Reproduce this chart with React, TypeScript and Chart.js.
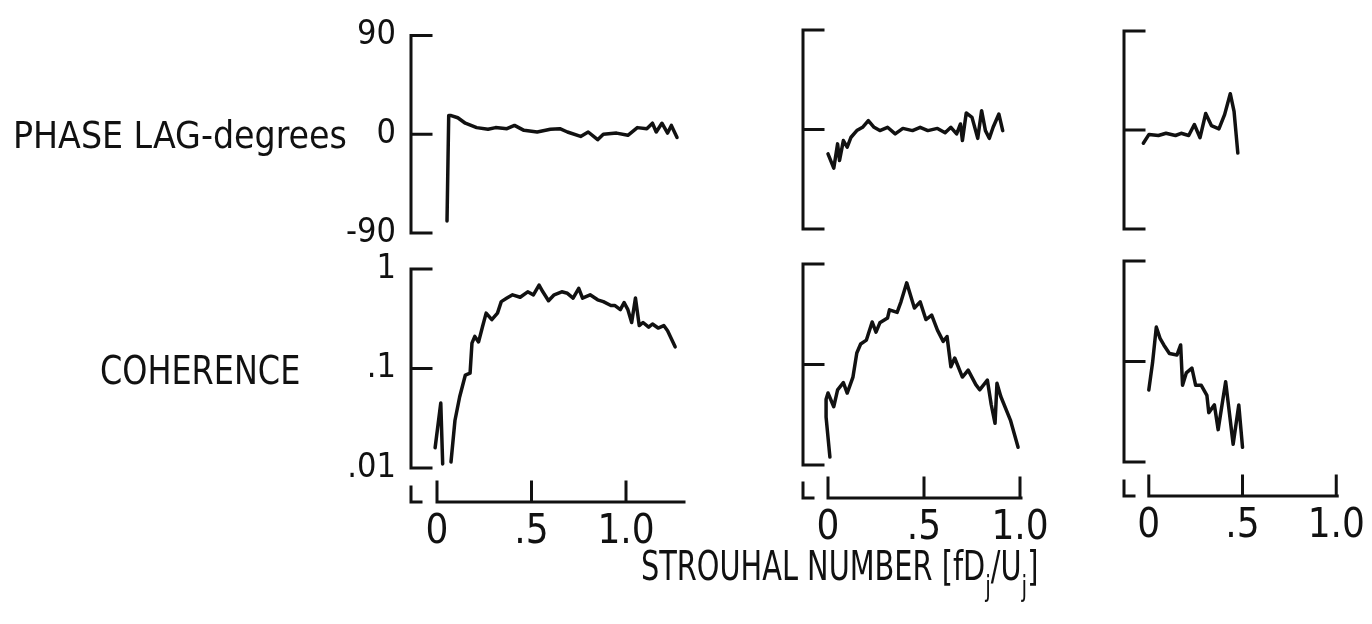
import React, { useEffect, useRef } from "react";
import { Chart, registerables } from "chart.js";

Chart.register(...registerables);

type Pt = [number, number | null];

// ---------- tick values & labels ----------
const phaseTicks = [-90, 0, 90];
const phaseTickLabels = ["-90", "0", "90"];
const coherenceTicks = [0.01, 0.1, 1];
const coherenceTickLabels = [".01", ".1", "1"];
const strouhalTicks = [0, 0.5, 1.0];
const strouhalTickLabels = ["0", ".5", "1.0"];

// ---------- series: [Strouhal number, value] ----------
const phaseA: Pt[] = [
  [0.053, -79], [0.062, 17], [0.075, 17], [0.11, 15], [0.15, 10], [0.21, 6], [0.27, 4.5],
  [0.31, 6], [0.37, 5], [0.41, 8], [0.46, 3.5], [0.53, 2], [0.6, 4.5], [0.65, 5], [0.69, 2],
  [0.76, -2], [0.8, 2], [0.85, -5], [0.88, 0], [0.95, 1], [1.01, -1], [1.06, 6], [1.11, 5],
  [1.14, 10], [1.16, 2], [1.19, 10], [1.22, 1], [1.24, 8], [1.27, -3],
];
const coherenceA: Pt[] = [
  [-0.01, 0.016], [0.02, 0.045], [0.03, 0.011], [0.05, null],
  [0.074, 0.0115], [0.095, 0.03], [0.12, 0.052], [0.15, 0.086], [0.175, 0.09], [0.185, 0.18],
  [0.2, 0.21], [0.22, 0.185], [0.24, 0.26], [0.26, 0.36], [0.29, 0.31], [0.32, 0.36],
  [0.34, 0.47], [0.37, 0.51], [0.4, 0.55], [0.44, 0.52], [0.48, 0.59], [0.51, 0.55],
  [0.54, 0.69], [0.56, 0.59], [0.59, 0.48], [0.62, 0.55], [0.66, 0.59], [0.69, 0.57],
  [0.72, 0.51], [0.75, 0.64], [0.77, 0.51], [0.81, 0.55], [0.85, 0.49], [0.88, 0.47],
  [0.92, 0.43], [0.94, 0.43], [0.97, 0.39], [0.99, 0.46], [1.01, 0.39], [1.03, 0.29],
  [1.05, 0.51], [1.07, 0.27], [1.09, 0.29], [1.12, 0.26], [1.14, 0.28], [1.17, 0.255],
  [1.2, 0.27], [1.22, 0.24], [1.26, 0.165],
];
const phaseB: Pt[] = [
  [0.0, -22], [0.03, -35], [0.05, -13], [0.06, -28], [0.08, -10], [0.1, -16], [0.12, -7],
  [0.15, -1], [0.18, 2], [0.21, 8], [0.24, 2], [0.27, -1], [0.31, 2], [0.35, -4], [0.39, 1],
  [0.44, -1], [0.48, 2], [0.52, -1], [0.57, 1], [0.61, -3], [0.64, 2], [0.67, -4], [0.69, 5],
  [0.7, -10], [0.72, 15], [0.75, 11], [0.78, -8], [0.8, 17], [0.82, -1], [0.84, -8],
  [0.86, 2], [0.89, 14], [0.91, -1],
];
const coherenceB: Pt[] = [
  [0.01, 0.012], [-0.01, 0.03], [-0.01, 0.045], [0.0, 0.052], [0.03, 0.038], [0.05, 0.056],
  [0.08, 0.066], [0.1, 0.052], [0.13, 0.075], [0.15, 0.13], [0.17, 0.16], [0.2, 0.175],
  [0.23, 0.265], [0.25, 0.21], [0.27, 0.26], [0.31, 0.29], [0.32, 0.35], [0.36, 0.33],
  [0.38, 0.42], [0.41, 0.65], [0.44, 0.42], [0.45, 0.365], [0.48, 0.42], [0.51, 0.28],
  [0.54, 0.31], [0.57, 0.22], [0.6, 0.17], [0.62, 0.19], [0.64, 0.095], [0.66, 0.116],
  [0.7, 0.075], [0.73, 0.088], [0.77, 0.063], [0.79, 0.056], [0.83, 0.07], [0.85, 0.04],
  [0.87, 0.026], [0.88, 0.065], [0.9, 0.048], [0.95, 0.028], [0.99, 0.015],
];
const phaseC: Pt[] = [
  [-0.03, -12], [0.0, -4], [0.05, -5], [0.09, -3], [0.14, -5], [0.17, -3], [0.21, -5],
  [0.24, 5], [0.27, -7], [0.3, 15], [0.33, 4], [0.37, 1], [0.4, 14], [0.43, 33], [0.45, 17],
  [0.47, -21],
];
const coherenceC: Pt[] = [
  [0.0, 0.052], [0.02, 0.097], [0.04, 0.22], [0.06, 0.17], [0.08, 0.146], [0.11, 0.12],
  [0.15, 0.116], [0.17, 0.146], [0.18, 0.058], [0.2, 0.077], [0.23, 0.086], [0.25, 0.058],
  [0.28, 0.058], [0.31, 0.046], [0.32, 0.031], [0.35, 0.037], [0.37, 0.021], [0.41, 0.063],
  [0.45, 0.015], [0.48, 0.037], [0.5, 0.014],
];

// ---------- layout (pixels) ----------
const W = 1372;
const H = 624;
const INK = "#111111";
const FONT = "'DejaVu Sans Condensed', 'Liberation Sans Narrow', 'DejaVu Sans', sans-serif";
const Y_BOX = 80;
const X_BOX = 60;

type Col = {
  axisLeft: number; zeroX: number; pxPerUnit: number; right: number;
  phaseTop: number; phaseBottom: number; cohTop: number; cohBottom: number; xAxisY: number;
  labels: boolean;
};

const columns: Col[] = [
  { axisLeft: 411, zeroX: 437, pxPerUnit: 189, right: 684, phaseTop: 32, phaseBottom: 233, cohTop: 269, cohBottom: 468, xAxisY: 502, labels: true },
  { axisLeft: 803, zeroX: 828, pxPerUnit: 192, right: 1021, phaseTop: 30, phaseBottom: 229, cohTop: 264, cohBottom: 465, xAxisY: 498, labels: false },
  { axisLeft: 1124, zeroX: 1149, pxPerUnit: 189, right: 1339, phaseTop: 31, phaseBottom: 229, cohTop: 261, cohBottom: 462, xAxisY: 496, labels: false },
];

const handAxes = {
  id: "handAxes",
  afterDraw(chart: any, _args: any, opts: any) {
    const { ctx, chartArea } = chart;
    const ys = chart.scales.y;
    const left = chartArea.left;
    const stub = opts.stub ?? 20;
    const tickPx: number[] = ys.ticks.map((t: any) => ys.getPixelForValue(t.value));
    const top = Math.min(...tickPx);
    const bot = Math.max(...tickPx);
    ctx.save();
    ctx.strokeStyle = INK;
    ctx.lineWidth = 3;
    ctx.lineCap = "square";
    ctx.beginPath();
    ctx.moveTo(left, top);
    ctx.lineTo(left, bot);
    tickPx.forEach((p) => {
      ctx.moveTo(left, p);
      ctx.lineTo(left + stub, p);
    });
    if (opts.xAxis) {
      const xs = chart.scales.x;
      const ay = chartArea.bottom;
      const xt: number[] = xs.ticks.map((t: any) => xs.getPixelForValue(t.value));
      ctx.moveTo(xt[0], ay);
      ctx.lineTo(chartArea.right, ay);
      xt.forEach((p) => {
        ctx.moveTo(p, ay);
        ctx.lineTo(p, ay - stub);
      });
      ctx.moveTo(left, ay - 15);
      ctx.lineTo(left, ay);
      ctx.lineTo(left + 10, ay);
    }
    ctx.stroke();
    ctx.restore();
  },
};

function makeConfig(col: Col, kind: "phase" | "coh", series: Pt[]): any {
  const isPhase = kind === "phase";
  const xMin = (col.axisLeft - col.zeroX) / col.pxPerUnit;
  const xMax = (col.right - col.zeroX) / col.pxPerUnit;
  const top = isPhase ? col.phaseTop : col.cohTop;
  const bottom = isPhase ? col.phaseBottom : col.xAxisY;
  const decade = (col.cohBottom - col.cohTop) / 2;
  const cohMin = Math.pow(10, -2 - (col.xAxisY - col.cohBottom) / decade);
  const xBox = isPhase ? 0 : X_BOX;

  const yCommon = {
    position: "left",
    bounds: "data",
    grid: { display: false, drawTicks: false },
    border: { display: false },
    afterFit: (s: any) => { s.width = Y_BOX; },
    ticks: {
      display: col.labels,
      padding: 15,
      color: INK,
      font: { family: FONT, size: 34 },
    },
  };

  const y = isPhase
    ? {
        ...yCommon,
        type: "linear",
        min: -90,
        max: 90,
        afterBuildTicks: (s: any) => { s.ticks = phaseTicks.map((v) => ({ value: v })); },
        ticks: { ...yCommon.ticks, callback: (_v: any, i: number) => phaseTickLabels[i] },
      }
    : {
        ...yCommon,
        type: "logarithmic",
        min: cohMin,
        max: 1,
        afterBuildTicks: (s: any) => { s.ticks = coherenceTicks.map((v) => ({ value: v })); },
        ticks: { ...yCommon.ticks, callback: (_v: any, i: number) => coherenceTickLabels[i] },
      };

  return {
    type: "line",
    data: {
      datasets: [
        {
          data: series.map(([x, v]) => ({ x, y: v })),
          borderColor: INK,
          borderWidth: 3.5,
          pointRadius: 0,
          tension: 0,
          spanGaps: false,
          borderJoinStyle: "round",
          borderCapStyle: "round",
        },
      ],
    },
    options: {
      responsive: false,
      animation: false,
      devicePixelRatio: 1,
      events: [],
      layout: {
        padding: {
          left: col.axisLeft - Y_BOX,
          top,
          right: W - col.right,
          bottom: H - bottom - xBox,
        },
      },
      plugins: {
        legend: { display: false },
        title: { display: false },
        tooltip: { enabled: false },
        handAxes: { stub: 20, xAxis: !isPhase },
      },
      scales: {
        x: {
          type: "linear",
          bounds: "data",
          min: xMin,
          max: xMax,
          display: !isPhase,
          position: "bottom",
          grid: { display: false, drawTicks: false },
          border: { display: false },
          afterFit: (s: any) => { s.height = xBox; },
          afterBuildTicks: (s: any) => { s.ticks = strouhalTicks.map((v) => ({ value: v })); },
          ticks: {
            autoSkip: false,
            maxRotation: 0,
            padding: 7,
            color: INK,
            font: { family: FONT, size: 40 },
            callback: (_v: any, i: number) => strouhalTickLabels[i],
          },
        },
        y,
      },
    },
    plugins: [handAxes],
  };
}

function Panel({ col, kind, series }: { col: Col; kind: "phase" | "coh"; series: Pt[] }) {
  const ref = useRef<HTMLCanvasElement>(null);
  useEffect(() => {
    const chart = new Chart(ref.current as HTMLCanvasElement, makeConfig(col, kind, series));
    return () => chart.destroy();
  }, []);
  return (
    <canvas
      ref={ref}
      width={W}
      height={H}
      style={{ position: "absolute", left: 0, top: 0, width: W, height: H }}
    />
  );
}

const labelStyle: React.CSSProperties = {
  position: "absolute",
  fontFamily: FONT,
  color: INK,
  lineHeight: 1,
  whiteSpace: "nowrap",
  transformOrigin: "left center",
};

export default function App() {
  const phases = [phaseA, phaseB, phaseC];
  const cohs = [coherenceA, coherenceB, coherenceC];
  return (
    <div style={{ position: "absolute", left: 0, top: 0, width: W, height: H, background: "#fff", overflow: "hidden" }}>
      {columns.map((c, i) => (
        <React.Fragment key={i}>
          <Panel col={c} kind="phase" series={phases[i]} />
          <Panel col={c} kind="coh" series={cohs[i]} />
        </React.Fragment>
      ))}
      <div style={{ ...labelStyle, left: 13, top: 117, fontSize: 37 }}>PHASE LAG-degrees</div>
      <div style={{ ...labelStyle, left: 100, top: 351, fontSize: 39, transform: "scaleX(0.91)" }}>COHERENCE</div>
      <div style={{ ...labelStyle, left: 641, top: 546, fontSize: 40, transform: "scaleX(0.8)" }}>
        STROUHAL NUMBER [fD<sub style={{ fontSize: 28, verticalAlign: -16 }}>j</sub>/U<sub style={{ fontSize: 28, verticalAlign: -16 }}>j</sub>]
      </div>
    </div>
  );
}
